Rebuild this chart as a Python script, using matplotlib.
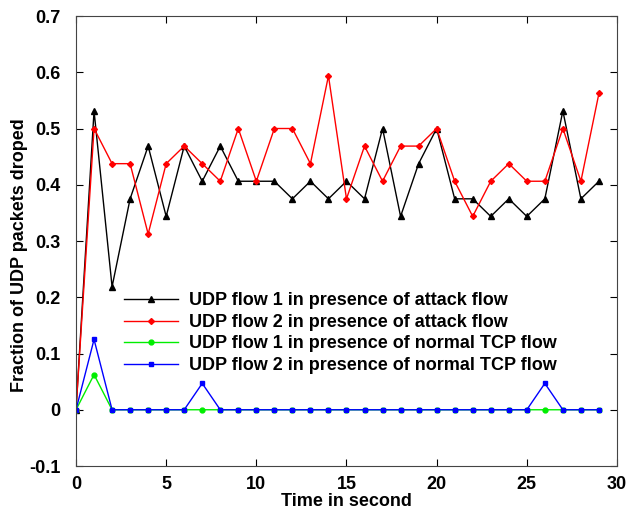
import matplotlib.pyplot as plt

plt.rcParams["font.family"] = ["Liberation Sans", "DejaVu Sans"]
plt.rcParams["font.weight"] = "bold"
plt.rcParams["axes.labelweight"] = "bold"

# data
t = list(range(30))
udp1_attack = [0, 0.53125, 0.21875, 0.375, 0.46875, 0.34375, 0.46875, 0.40625, 0.46875, 0.40625,
               0.40625, 0.40625, 0.375, 0.40625, 0.375, 0.40625, 0.375, 0.5, 0.34375, 0.4375,
               0.5, 0.375, 0.375, 0.34375, 0.375, 0.34375, 0.375, 0.53125, 0.375, 0.40625]
udp2_attack = [0, 0.5, 0.4375, 0.4375, 0.3125, 0.4375, 0.46875, 0.4375, 0.40625, 0.5,
               0.40625, 0.5, 0.5, 0.4375, 0.59375, 0.375, 0.46875, 0.40625, 0.46875, 0.46875,
               0.5, 0.40625, 0.34375, 0.40625, 0.4375, 0.40625, 0.40625, 0.5, 0.40625, 0.5625]
udp1_tcp = [0, 0.0625] + [0] * 28
udp2_tcp = [0, 0.125, 0, 0, 0, 0, 0, 0.046875, 0, 0,
            0, 0, 0, 0, 0, 0, 0, 0, 0, 0,
            0, 0, 0, 0, 0, 0, 0.046875, 0, 0, 0]

labels = ["UDP flow 1 in presence of attack flow",
          "UDP flow 2 in presence of attack flow",
          "UDP flow 1 in presence of normal TCP flow",
          "UDP flow 2 in presence of normal TCP flow"]

fig = plt.figure(figsize=(6.42, 5.13), dpi=100)
ax = fig.add_axes([0.1184, 0.0916, 0.8426, 0.8772])

ax.plot(t, udp1_attack, color="black", lw=1, marker="^", ms=4, label=labels[0])
ax.plot(t, udp2_attack, color="red", lw=1, marker="D", ms=3, label=labels[1])
ax.plot(t, udp1_tcp, color="#00ee00", lw=1, marker="o", ms=3.5, label=labels[2])
ax.plot(t, udp2_tcp, color="blue", lw=1, marker="s", ms=3.5, label=labels[3])

ax.set_xlim(0, 30)
ax.set_ylim(-0.1, 0.7)
ax.set_xticks(range(0, 31, 5))
ax.set_yticks([-0.1, 0, 0.1, 0.2, 0.3, 0.4, 0.5, 0.6, 0.7])
ax.set_yticklabels(["-0.1", "0", "0.1", "0.2", "0.3", "0.4", "0.5", "0.6", "0.7"])
ax.tick_params(direction="in", length=5, top=True, right=True, labelsize=13)
ax.tick_params(axis="y", pad=11)
ax.tick_params(axis="x", pad=7)
for s in ax.spines.values():
    s.set_color("#444444")

ax.set_xlabel("Time in second", fontsize=13, labelpad=0)
ax.set_ylabel("Fraction of UDP packets droped", fontsize=13)
ax.yaxis.set_label_coords(-0.089, 0.469)

ax.legend(loc="upper left", bbox_to_anchor=(0.075, 0.402), frameon=False, fontsize=13,
          handlelength=3, handletextpad=0.6, labelspacing=0.25, borderaxespad=0)

fig.savefig("out.png", dpi=100)
